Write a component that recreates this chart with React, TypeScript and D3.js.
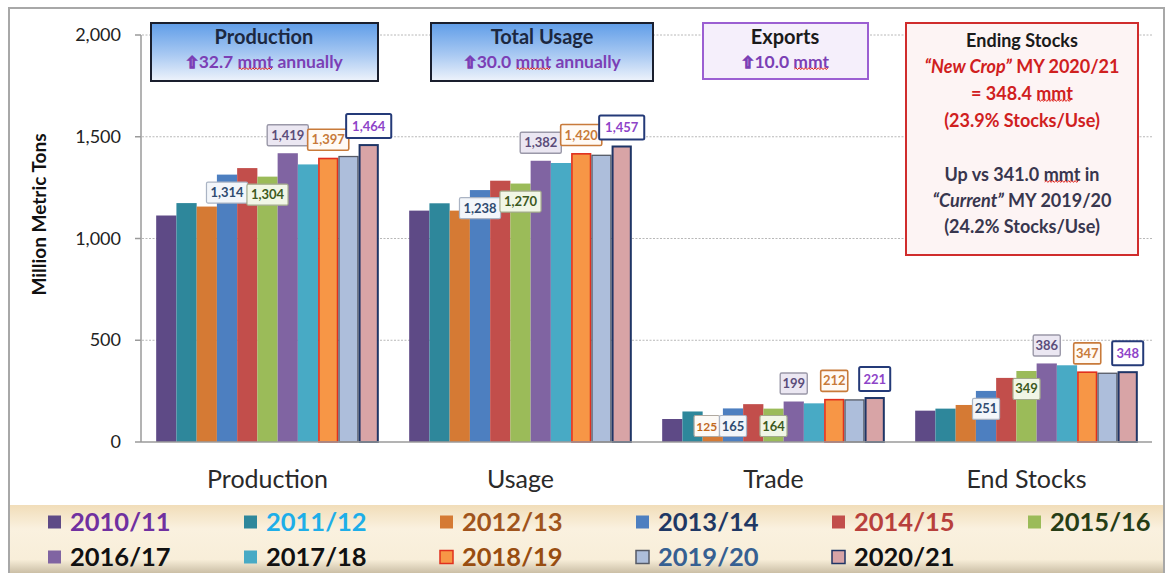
import React, { useEffect, useRef } from 'react';
import * as d3 from 'd3';

const categories = ['Production', 'Usage', 'Trade', 'End Stocks'];
const years = ['2010/11', '2011/12', '2012/13', '2013/14', '2014/15', '2015/16', '2016/17', '2017/18', '2018/19', '2019/20', '2020/21'];
const production = [1113, 1174, 1157, 1314, 1346, 1304, 1419, 1364, 1397, 1406, 1464];
const usage = [1137, 1173, 1137, 1238, 1284, 1270, 1382, 1371, 1420, 1412, 1457];
const trade = [113, 150, 125, 165, 186, 164, 199, 190, 212, 210, 221];
const endStocks = [154, 164, 182, 251, 315, 349, 386, 377, 347, 341, 348];
const yTicks = [0, 500, 1000, 1500, 2000];
const gridTicks = [500, 1000, 1500, 2000];
const prodLabelYears = ['2013/14', '2015/16', '2016/17', '2018/19', '2020/21'];
const usageLabelYears = ['2013/14', '2015/16', '2016/17', '2018/19', '2020/21'];
const tradeLabelYears = ['2012/13', '2013/14', '2015/16', '2016/17', '2018/19', '2020/21'];
const stocksLabelYears = ['2013/14', '2015/16', '2016/17', '2018/19', '2020/21'];

const barFill: Record<string, string> = {
  '2010/11': '#5e4a86', '2011/12': '#2e879b', '2012/13': '#d57a34', '2013/14': '#4d7fc0',
  '2014/15': '#c24e4b', '2015/16': '#9bbb59', '2016/17': '#8064a2', '2017/18': '#48aac5',
  '2018/19': '#f79646', '2019/20': '#adbedb', '2020/21': '#d8a4a6',
};
const barStroke: Record<string, [string, number]> = {
  '2018/19': ['#e0301e', 1.6], '2019/20': ['#555a66', 1.3], '2020/21': ['#1f3566', 2],
};
const legendColor: Record<string, string> = {
  '2010/11': '#7030a0', '2011/12': '#1eaee8', '2012/13': '#a0541c', '2013/14': '#1f3864',
  '2014/15': '#b8403c', '2015/16': '#263d15', '2016/17': '#111', '2017/18': '#111',
  '2018/19': '#984d10', '2019/20': '#366092', '2020/21': '#111',
};
const labelStyle: Record<string, { fill: string; stroke: string; text: string; below: boolean; sw: number; dx: number; fs: number }> = {
  '2012/13': { fill: '#fdfaf6', stroke: '#b0a9a0', text: '#c2691f', below: true, sw: 1.2, dx: -6, fs: 12 },
  '2013/14': { fill: '#f3f6fa', stroke: '#aab4c4', text: '#2f4b70', below: true, sw: 1.2, dx: 0, fs: 13 },
  '2015/16': { fill: '#f1f6e6', stroke: '#a3ab8c', text: '#3d5a1e', below: true, sw: 1.2, dx: 0, fs: 13 },
  '2016/17': { fill: '#ebe7f2', stroke: '#9a98a8', text: '#5b4d7a', below: false, sw: 1.4, dx: 0, fs: 13 },
  '2018/19': { fill: '#fffaf5', stroke: '#c87a3a', text: '#c87a3a', below: false, sw: 1.6, dx: 0, fs: 13 },
  '2020/21': { fill: '#ffffff', stroke: '#243a78', text: '#8e44c8', below: false, sw: 2, dx: 0, fs: 13 },
};

const FONT = 'Lato, "Open Sans", sans-serif';

export default function App() {
  const ref = useRef<SVGSVGElement>(null);
  const x0 = d3.scaleBand<string>().domain(categories).range([141, 1153]).paddingInner(0.12).paddingOuter(0.06);
  const x1 = d3.scaleBand<string>().domain(years).range([0, x0.bandwidth()]);
  const y = d3.scaleLinear().domain([0, 2000]).range([442, 35]);
  const series = [production, usage, trade, endStocks];
  const labelSets = [prodLabelYears, usageLabelYears, tradeLabelYears, stocksLabelYears];
  const fmt = d3.format(',');

  useEffect(() => {
    if (!ref.current) return;
    const svg = d3.select(ref.current);
    const g = svg.select<SVGGElement>('g.squiggles');
    g.selectAll('*').remove();
    svg.selectAll<SVGTSpanElement, unknown>('tspan.spell').each(function () {
      const b = this.getBBox();
      const xa = b.x + 1, xb = b.x + b.width - 1;
      const yy = b.y + b.height * 0.86;
      let d = `M${xa},${yy}`;
      let up = true;
      for (let xx = xa + 1.6; xx <= xb; xx += 1.6) {
        d += `L${xx.toFixed(1)},${(yy + (up ? -1.3 : 0.5)).toFixed(1)}`;
        up = !up;
      }
      g.append('path').attr('d', d).attr('fill', 'none').attr('stroke', '#e0201a').attr('stroke-width', 1);
    });
  }, []);

  const labels: React.ReactNode[] = [];
  categories.forEach((cat, ci) => {
    years.forEach((yr, yi) => {
      if (!labelSets[ci].includes(yr)) return;
      const st = labelStyle[yr];
      const v = series[ci][yi];
      const cx = (x0(cat) as number) + (x1(yr) as number) + x1.bandwidth() / 2 + st.dx;
      const top = y(v);
      const cy = st.below ? Math.min(top + 18, y(0) - 16) : top - 18;
      const txt = fmt(v);
      const w = txt.length * (st.fs * 0.54) + (yr === '2020/21' ? 10 : 6);
      const h = yr === '2020/21' ? 24 : 21;
      labels.push(
        <g key={`l-${ci}-${yi}`}>
          <rect x={cx - w / 2} y={cy - h / 2} width={w} height={h} fill={st.fill} stroke={st.stroke} strokeWidth={st.sw} rx={1.5} />
          <text x={cx} y={cy + 4.5} textAnchor="middle" fontFamily={FONT} fontWeight={700} fontSize={st.fs} fill={st.text}>{txt}</text>
        </g>
      );
    });
  });

  const arrow = (c: string) => (
    <tspan fontFamily='"DejaVu Sans", sans-serif' fontSize={16} stroke={c} strokeWidth={1.3}>⇧</tspan>
  );

  return (
    <svg ref={ref} width={1173} height={573} style={{ position: 'absolute', left: 0, top: 0, background: '#fff' }}>
      <defs>
        <linearGradient id="blueBox" x1="0" y1="0" x2="0" y2="1">
          <stop offset="0%" stopColor="#5f9de8" />
          <stop offset="55%" stopColor="#a9c9f2" />
          <stop offset="100%" stopColor="#eef3fb" />
        </linearGradient>
        <linearGradient id="legendBand" x1="0" y1="0" x2="0" y2="1">
          <stop offset="0%" stopColor="#f1ddb9" />
          <stop offset="35%" stopColor="#faf1df" />
          <stop offset="80%" stopColor="#f8eed9" />
          <stop offset="100%" stopColor="#cbbfa6" />
        </linearGradient>
      </defs>
      <rect x={0} y={0} width={1173} height={573} fill="#fff" />
      <rect x={9} y={8} width={1155} height={590} fill="#fff" stroke="#a8a8a8" strokeWidth={2} />
      <rect x={10} y={505} width={1153} height={68} fill="url(#legendBand)" />

      {gridTicks.map(t => (
        <line key={`g${t}`} x1={142} x2={1152} y1={y(t)} y2={y(t)} stroke="#b8b8b8" strokeWidth={1} strokeDasharray="2,1.5" />
      ))}
      <line x1={141} x2={141} y1={y(2000)} y2={y(0)} stroke="#9a9a9a" strokeWidth={1.5} />
      {yTicks.map(t => (
        <g key={`t${t}`}>
          <line x1={135} x2={141} y1={y(t)} y2={y(t)} stroke="#9a9a9a" strokeWidth={1.5} />
          <text x={121} y={y(t) + 6} textAnchor="end" fontFamily={FONT} fontSize={18} fill="#222">{fmt(t)}</text>
        </g>
      ))}
      <text transform={`translate(46,${(y(0) + y(2000)) / 2 - 24}) rotate(-90)`} textAnchor="middle" fontFamily={FONT} fontWeight={700} fontSize={19} fill="#111">Million Metric Tons</text>

      {categories.map((cat, ci) => (
        <g key={cat} transform={`translate(${x0(cat)},0)`}>
          {years.map((yr, yi) => {
            const s = barStroke[yr];
            const v = series[ci][yi];
            const inset = s ? s[1] / 2 : 0;
            return (
              <rect key={yr} x={(x1(yr) as number) + inset} y={y(v) + inset} width={x1.bandwidth() - 2 * inset}
                height={y(0) - y(v) - inset} fill={barFill[yr]} stroke={s ? s[0] : 'none'} strokeWidth={s ? s[1] : 0} />
            );
          })}
        </g>
      ))}
      <line x1={141} x2={1152} y1={y(0)} y2={y(0)} stroke="#9a9a9a" strokeWidth={1.5} />

      {labels}

      {categories.map(cat => (
        <text key={`c-${cat}`} x={(x0(cat) as number) + x0.bandwidth() / 2} y={488} textAnchor="middle" fontFamily={FONT} fontSize={25} fill="#2a2a2a">{cat}</text>
      ))}

      {years.map((yr, i) => {
        const col = i < 6 ? i : i - 6;
        const row = i < 6 ? 0 : 1;
        const sx = 48 + col * 196;
        const cy = row === 0 ? 522 : 557;
        const s = barStroke[yr];
        return (
          <g key={`lg-${yr}`}>
            <rect x={sx} y={cy - 6.5} width={13} height={13} fill={barFill[yr]} stroke={s ? s[0] : 'none'} strokeWidth={s ? 1.5 : 0} />
            <text x={sx + 22} y={cy + 9} fontFamily={FONT} fontWeight={700} fontSize={25.5} fill={legendColor[yr]}>{yr}</text>
          </g>
        );
      })}

      <g fontFamily={FONT} fontWeight={700} textAnchor="middle">
        <rect x={151} y={23} width={227} height={58} fill="url(#blueBox)" stroke="#1a1f2e" strokeWidth={2} />
        <text x={264} y={44} fontSize={20} fill="#1c2840">Production</text>
        <text x={264} y={68} fontSize={17.5} fill="#7b3fb5">{arrow('#7b3fb5')}32.7 <tspan className="spell">mmt</tspan> annually</text>

        <rect x={431} y={23} width={222} height={58} fill="url(#blueBox)" stroke="#1a1f2e" strokeWidth={2} />
        <text x={542} y={44} fontSize={20} fill="#1c2840">Total Usage</text>
        <text x={542} y={68} fontSize={17.5} fill="#7b3fb5">{arrow('#7b3fb5')}30.0 <tspan className="spell">mmt</tspan> annually</text>

        <rect x={703} y={23} width={165} height={56} fill="#f5effb" stroke="#9b5fd2" strokeWidth={2} />
        <text x={785} y={44} fontSize={20} fill="#1a1a1a">Exports</text>
        <text x={785} y={68} fontSize={17.5} fill="#7b3fb5">{arrow('#7b3fb5')}10.0 <tspan className="spell">mmt</tspan></text>

        <rect x={906} y={23} width={232} height={232} fill="#fdf4f4" stroke="#d02c2c" strokeWidth={2} />
        <text x={1022} y={47} fontSize={18} fill="#1a1a1a">Ending Stocks</text>
        <text x={1022} y={73} fontSize={18} fill="#d0201e"><tspan fontStyle="italic">“New Crop”</tspan> MY 2020/21</text>
        <text x={1022} y={100} fontSize={18} fill="#d0201e">= 348.4 <tspan className="spell">mmt</tspan></text>
        <text x={1022} y={127} fontSize={18} fill="#d0201e">(23.9% Stocks/Use)</text>
        <text x={1022} y={181} fontSize={18} fill="#38364e">Up vs 341.0 <tspan className="spell">mmt</tspan> in</text>
        <text x={1022} y={207} fontSize={18} fill="#38364e"><tspan fontStyle="italic">“Current”</tspan> MY 2019/20</text>
        <text x={1022} y={233} fontSize={18} fill="#38364e">(24.2% Stocks/Use)</text>
      </g>
      <g className="squiggles" />
    </svg>
  );
}
